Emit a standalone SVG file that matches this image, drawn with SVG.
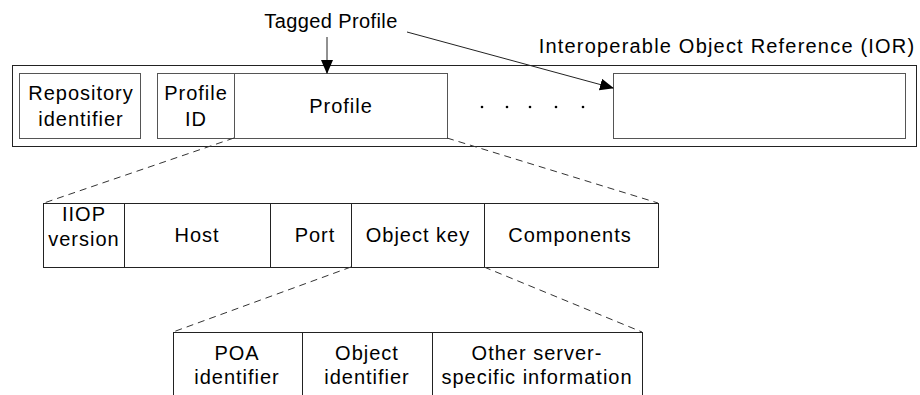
<svg xmlns="http://www.w3.org/2000/svg" width="920" height="395" viewBox="0 0 920 395">
<style>
text{font-family:"Liberation Sans",Arial,sans-serif;font-size:20px;fill:#000;text-anchor:middle;letter-spacing:1px}
.box{fill:#fff;stroke:#555;stroke-width:1}
.dk{stroke:#222}
.outer{fill:#fff;stroke:#222;stroke-width:1}
.dash{fill:none;stroke:#333;stroke-width:1;stroke-dasharray:7,5}
.arr{fill:none;stroke:#222;stroke-width:1}
</style>
<defs>
<marker id="ah" markerWidth="14" markerHeight="12" refX="13" refY="6" orient="auto" markerUnits="userSpaceOnUse">
<path d="M0,0 L14,6 L0,12 Z" fill="#000"/>
</marker>
</defs>
<rect width="920" height="395" fill="#fff"/>
<g id="ior">
<rect class="outer" x="12.5" y="65.5" width="904" height="81"/>
<text x="727" y="53" style="letter-spacing:1.2px">Interoperable Object Reference (IOR)</text>
</g>
<g id="repository">
<rect class="box" x="19.5" y="73.5" width="121" height="65"/>
<text x="81" y="100">Repository</text>
<text x="81" y="126">identifier</text>
</g>
<g id="profileid">
<rect class="box" x="157.5" y="73.5" width="77" height="65"/>
<text x="196" y="100">Profile</text>
<text x="196" y="126">ID</text>
</g>
<g id="profile">
<rect class="box" x="234.5" y="73.5" width="213" height="65"/>
<text x="341" y="113">Profile</text>
</g>
<g id="dots">
<circle cx="482" cy="107" r="1.3"/>
<circle cx="507" cy="107" r="1.3"/>
<circle cx="530" cy="107" r="1.3"/>
<circle cx="556" cy="107" r="1.3"/>
<circle cx="583" cy="107" r="1.3"/>
</g>
<g id="emptyprofile">
<rect class="box" x="613.5" y="73.5" width="292" height="65"/>
</g>
<g id="tagged">
<text x="331" y="28" style="letter-spacing:0.4px">Tagged Profile</text>
</g>
<g id="iiop">
<rect class="box dk" x="43.5" y="203.5" width="81" height="64"/>
<text x="84" y="221">IIOP</text>
<text x="84" y="246">version</text>
</g>
<g id="host">
<rect class="box dk" x="124.5" y="203.5" width="146" height="64"/>
<text x="197" y="242">Host</text>
</g>
<g id="port">
<rect class="box dk" x="270.5" y="203.5" width="81" height="64"/>
<text x="315" y="242">Port</text>
</g>
<g id="objectkey">
<rect class="box dk" x="351.5" y="203.5" width="133" height="64"/>
<text x="418" y="242">Object key</text>
</g>
<g id="components">
<rect class="box dk" x="484.5" y="203.5" width="174" height="64"/>
<text x="570" y="242">Components</text>
</g>
<g id="poa">
<rect class="box dk" x="173.5" y="332.5" width="129" height="70"/>
<text x="237" y="360">POA</text>
<text x="237" y="384">identifier</text>
</g>
<g id="objectid">
<rect class="box dk" x="302.5" y="332.5" width="130" height="70"/>
<text x="367" y="360">Object</text>
<text x="367" y="384">identifier</text>
</g>
<g id="other">
<rect class="box dk" x="432.5" y="332.5" width="210" height="70"/>
<text x="537" y="360">Other server-</text>
<text x="537" y="384">specific information</text>
</g>
<g id="connectors">
<line class="arr" x1="327" y1="37" x2="327" y2="73" marker-end="url(#ah)"/>
<line class="arr" x1="407" y1="32" x2="613" y2="88" marker-end="url(#ah)"/>
<line class="dash" x1="234" y1="138" x2="44" y2="203"/>
<line class="dash" x1="447" y1="138" x2="658" y2="203"/>
<line class="dash" x1="351" y1="267" x2="173" y2="332"/>
<line class="dash" x1="484" y1="267" x2="642" y2="332"/>
</g>
</svg>
